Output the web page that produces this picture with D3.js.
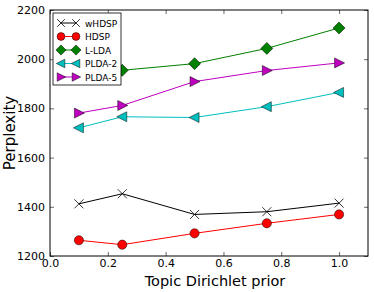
<!DOCTYPE html>
<html>
<head>
<meta charset="utf-8">
<script src="https://cdn.jsdelivr.net/npm/d3@7"></script>
<style>
  body { margin: 0; background: #fff; }
  svg { display: block; font-family: "DejaVu Sans", sans-serif; }
</style>
</head>
<body>
<svg id="chart"></svg>
<script>
// Topic Dirichlet prior values
const priors = [0.1, 0.25, 0.5, 0.75, 1.0];

// Perplexity values
const wHDSP = [1412, 1453, 1369, 1380, 1415];
const HDSP = [1264, 1246, 1292, 1333, 1369];
const LLDA = [1940, 1955, 1982, 2044, 2127];
const PLDA2 = [1721, 1766, 1763, 1807, 1865];
const PLDA5 = [1781, 1812, 1909, 1954, 1985];

const xTicks = [0.0, 0.2, 0.4, 0.6, 0.8, 1.0];
const yTicks = [1200, 1400, 1600, 1800, 2000, 2200];

const series = [
  { name: 'wHDSP', values: wHDSP, color: '#000000', marker: 'x' },
  { name: 'HDSP', values: HDSP, color: '#ff0000', marker: 'o' },
  { name: 'L-LDA', values: LLDA, color: '#008000', marker: 'D' },
  { name: 'PLDA-2', values: PLDA2, color: '#00bfbf', marker: '<' },
  { name: 'PLDA-5', values: PLDA5, color: '#bf00bf', marker: '>' }
];

const width = 374, height = 292;
const margin = { top: 10, right: 6, bottom: 36, left: 50 };
const w = width - margin.left - margin.right;
const h = height - margin.top - margin.bottom;

const svg = d3.select('#chart').attr('width', width).attr('height', height);
const g = svg.append('g').attr('transform', `translate(${margin.left},${margin.top})`);

const x = d3.scaleLinear().domain([0, 1.1]).range([0, w]);
const y = d3.scaleLinear().domain([1200, 2200]).range([h, 0]);

// markers drawn around (0,0), k scales them (legend uses smaller ones)
const drawMarker = (sel, s, k = 1) => {
  if (s.marker === 'x') {
    const a = 4.5 * k;
    sel.append('path').attr('d', `M${-a},${-a}L${a},${a}M${-a},${a}L${a},${-a}`)
      .attr('stroke', s.color).attr('stroke-width', 0.8).attr('fill', 'none');
  } else if (s.marker === 'o') {
    sel.append('circle').attr('r', 4.6 * k)
      .attr('fill', s.color).attr('stroke', '#000').attr('stroke-width', 0.5);
  } else if (s.marker === 'D') {
    const a = 6 * k;
    sel.append('path').attr('d', `M0,${-a}L${a},0L0,${a}L${-a},0Z`)
      .attr('fill', s.color).attr('stroke', '#000').attr('stroke-width', 0.5);
  } else if (s.marker === '<') {
    sel.append('path').attr('d', `M${-5.5 * k},0L${4.5 * k},${-5 * k}L${4.5 * k},${5 * k}Z`)
      .attr('fill', s.color).attr('stroke', '#000').attr('stroke-width', 0.5);
  } else {
    sel.append('path').attr('d', `M${5.5 * k},0L${-4.5 * k},${-5 * k}L${-4.5 * k},${5 * k}Z`)
      .attr('fill', s.color).attr('stroke', '#000').attr('stroke-width', 0.5);
  }
};

const line = d3.line().x(d => x(d[0])).y(d => y(d[1]));

series.forEach(s => {
  const pts = priors.map((p, i) => [p, s.values[i]]);
  g.append('path').datum(pts)
    .attr('fill', 'none').attr('stroke', s.color).attr('stroke-width', 1)
    .attr('d', line);
  pts.forEach(p => {
    const m = g.append('g').attr('transform', `translate(${x(p[0])},${y(p[1])})`);
    drawMarker(m, s);
  });
});

// axes with inward ticks on all sides
const axB = g.append('g').attr('transform', `translate(0,${h})`)
  .call(d3.axisBottom(x).tickValues(xTicks).tickFormat(d3.format('.1f')).tickSizeInner(-4).tickSizeOuter(0).tickPadding(3));
const axT = g.append('g')
  .call(d3.axisTop(x).tickValues(xTicks).tickFormat('').tickSizeInner(-4).tickSizeOuter(0));
const axL = g.append('g')
  .call(d3.axisLeft(y).tickValues(yTicks).tickFormat(d3.format('d')).tickSizeInner(-4).tickSizeOuter(0).tickPadding(5));
const axR = g.append('g').attr('transform', `translate(${w},0)`)
  .call(d3.axisRight(y).tickValues(yTicks).tickFormat('').tickSizeInner(-4).tickSizeOuter(0));

[axB, axT, axL, axR].forEach(a => {
  a.select('.domain').remove();
  a.selectAll('line').attr('stroke', '#000').attr('stroke-width', 0.6);
  a.selectAll('text').attr('font-size', 11).attr('fill', '#000').attr('font-family', '"DejaVu Sans", sans-serif');
});

g.append('rect').attr('width', w).attr('height', h)
  .attr('fill', 'none').attr('stroke', '#000').attr('stroke-width', 1);

// axis labels
svg.append('text').attr('x', margin.left + w / 2 + 6).attr('y', 286)
  .attr('text-anchor', 'middle').attr('font-size', 14.5).text('Topic Dirichlet prior');
svg.append('text').attr('transform', `translate(15,${margin.top + h / 2}) rotate(-90)`)
  .attr('text-anchor', 'middle').attr('font-size', 15).text('Perplexity');

// legend
const lg = svg.append('g').attr('transform', 'translate(53,13)');
lg.append('rect').attr('width', 68).attr('height', 72)
  .attr('fill', '#fff').attr('stroke', '#000').attr('stroke-width', 0.8);
series.forEach((s, i) => {
  const row = lg.append('g').attr('transform', `translate(0,${10 + i * 13.5})`);
  row.append('line').attr('x1', 8).attr('x2', 23).attr('stroke', s.color).attr('stroke-width', 1);
  [8, 23].forEach(cx => drawMarker(row.append('g').attr('transform', `translate(${cx},0)`), s, 0.85));
  row.append('text').attr('x', 32).attr('y', 3.5).attr('font-size', 9).text(s.name);
});
</script>
</body>
</html>
